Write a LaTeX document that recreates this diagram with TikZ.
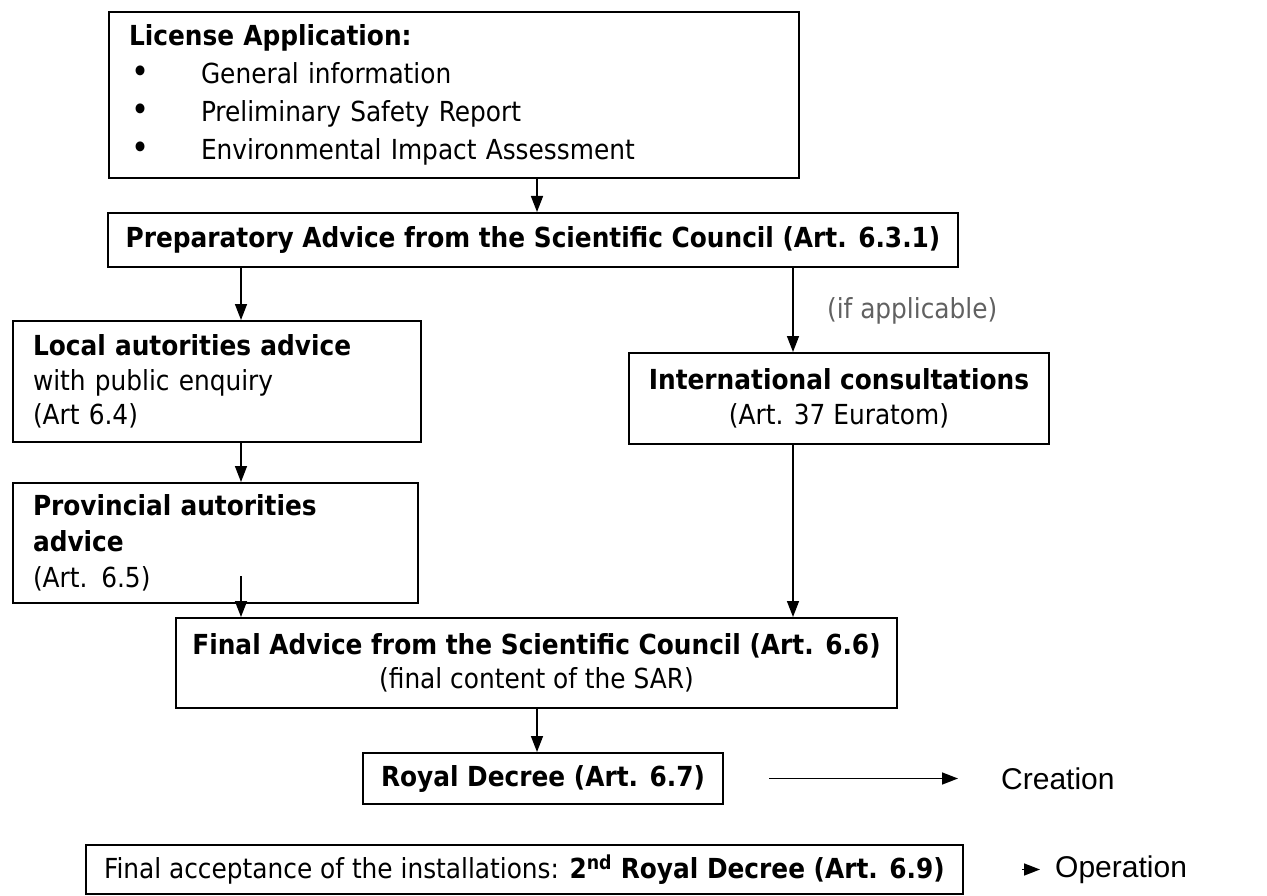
\documentclass[tikz,border=0pt]{standalone}
\usepackage{fontspec}
\setmainfont{DejaVu Sans Condensed}
\newfontfamily\arialfont{Liberation Sans}
\usetikzlibrary{arrows.meta, positioning}
\tikzstyle{block} = [rectangle, draw, line width=2pt, anchor=north west, inner sep=0pt, font=\fontsize{27.6}{34.5}\selectfont]
\tikzstyle{leftblock} = [block, align=left, inner xsep=20pt]
\tikzstyle{midblock} = [block, align=center]
\tikzstyle{arrow} = [line width=1.5pt, -{Triangle[length=16pt,width=12pt]}]
\tikzstyle{result} = [anchor=west, inner sep=0pt, font=\arialfont\fontsize{30}{34}\selectfont]
\newcommand{\bulletitem}[1]{\makebox[72pt][l]{\hspace{2pt}{\fontsize{34}{34}\selectfont•}}#1}

\begin{document}
\begin{tikzpicture}[x=1pt, y=-1pt]
\useasboundingbox (0,0) rectangle (1267,896);
\node (appl) [leftblock, minimum width=690pt, minimum height=166pt, text width=650pt, font=\fontsize{27.6}{38}\selectfont] at (108,11) {\textbf{License Application:}\\\bulletitem{General information}\\\bulletitem{Preliminary Safety Report}\\\bulletitem{Environmental Impact Assessment}};
\node (prep) [midblock, minimum width=850pt, minimum height=54pt] at (107,212) {\textbf{Preparatory Advice from the Scientific Council (Art. 6.3.1)}};
\node (local) [leftblock, minimum width=408pt, minimum height=121pt, text width=368pt] at (12,320) {\textbf{Local autorities advice}\\with public enquiry\\(Art 6.4)};
\node (intl) [midblock, minimum width=420pt, minimum height=91pt] at (628,352) {\textbf{International consultations}\\(Art. 37 Euratom)};
\node (prov) [leftblock, minimum width=405pt, minimum height=120pt, text width=365pt, font=\fontsize{27.6}{36}\selectfont] at (12,482) {\textbf{Provincial autorities}\\\textbf{advice}\\(Art. 6.5)};
\node (final) [midblock, minimum width=721pt, minimum height=90pt] at (175,617) {\textbf{Final Advice from the Scientific Council (Art. 6.6)}\\(final content of the SAR)};
\node (royal) [midblock, minimum width=360pt, minimum height=51pt] at (362,752) {\textbf{Royal Decree (Art. 6.7)}};
\node (accept) [midblock, minimum width=877pt, minimum height=49pt] at (85,844) {Final acceptance of the installations: \textbf{2\textsuperscript{nd} Royal Decree (Art. 6.9)}};
\node (creation) [result] at (1001,779) {Creation};
\node (operation) [result] at (1055,870) {Operation};

% arrow columns
\coordinate (mid) at (537,0);
\coordinate (lft) at (241,0);
\coordinate (rgt) at (793,0);
\coordinate (provout) at (241,576);

\draw [arrow] (appl.south -| mid) -- (prep.north -| mid);
\draw [arrow] (prep.south -| lft) -- (local.north -| lft);
\draw [arrow] (local.south -| lft) -- (prov.north -| lft);
\draw [arrow] (provout) -- (final.north -| provout);
\draw [arrow] (prep.south -| rgt) -- node [right, xshift=30pt, yshift=-1pt, text=black!62, font=\fontsize{27.6}{34.5}\selectfont] {(if applicable)} (intl.north -| rgt);
\draw [arrow] (intl.south -| rgt) -- (final.north -| rgt);
\draw [arrow] (final.south -| mid) -- (royal.north -| mid);
\draw [arrow, shorten <=45pt, shorten >=43pt] (royal.east) -- (creation.west |- royal.east);
\draw [arrow, shorten <=58pt, shorten >=15pt] (accept.east) -- (operation.west |- accept.east);
\end{tikzpicture}
\end{document}
